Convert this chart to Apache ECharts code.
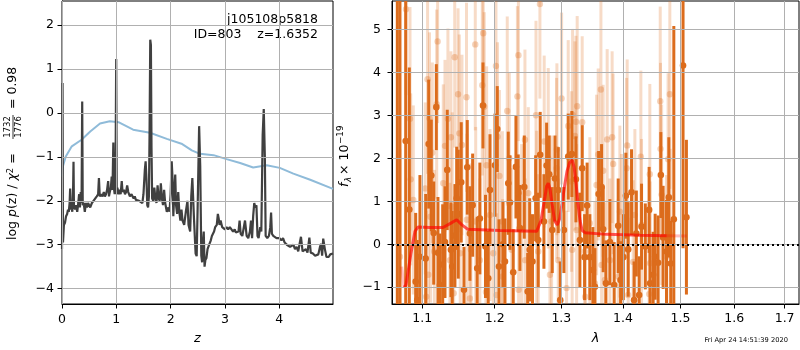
<!DOCTYPE html>
<html><head><meta charset="utf-8">
<script src="https://cdn.jsdelivr.net/npm/echarts@6/dist/echarts.min.js"></script>
<style>html,body{margin:0;padding:0;background:#fff}#c{width:800px;height:350px}</style>
</head><body><div id="c"></div><script>
// ---------- Left panel: log p(z) and chi2 curve ----------
const pzZ = [0.000,0.010,0.018,0.035,0.055,0.075,0.095,0.110,0.125,0.140,0.150,0.160,0.175,0.190,0.205,0.212,0.220,0.240,0.260,0.280,0.300,0.315,0.330,0.345,0.360,0.372,0.382,0.400,0.420,0.440,0.460,0.480,0.500,0.520,0.550,0.580,0.610,0.640,0.665,0.680,0.695,0.720,0.745,0.770,0.790,0.810,0.830,0.850,0.865,0.880,0.900,0.915,0.930,0.945,0.955,0.970,0.985,0.998,1.008,1.020,1.040,1.060,1.080,1.100,1.115,1.140,1.160,1.180,1.200,1.220,1.250,1.280,1.300,1.320,1.340,1.360,1.390,1.420,1.450,1.480,1.500,1.525,1.540,1.555,1.570,1.585,1.600,1.612,1.625,1.637,1.648,1.660,1.680,1.700,1.720,1.740,1.760,1.780,1.800,1.820,1.840,1.860,1.880,1.900,1.930,1.960,1.980,2.000,2.020,2.035,2.050,2.070,2.085,2.100,2.120,2.140,2.160,2.180,2.200,2.220,2.250,2.280,2.310,2.330,2.360,2.380,2.400,2.430,2.460,2.480,2.500,2.525,2.545,2.565,2.580,2.595,2.610,2.625,2.640,2.660,2.680,2.710,2.740,2.760,2.780,2.800,2.820,2.850,2.870,2.885,2.900,2.920,2.950,2.980,3.000,3.030,3.060,3.090,3.120,3.150,3.180,3.200,3.230,3.250,3.270,3.290,3.320,3.350,3.370,3.400,3.430,3.460,3.480,3.500,3.520,3.540,3.560,3.580,3.600,3.620,3.650,3.670,3.695,3.715,3.735,3.750,3.780,3.810,3.835,3.850,3.865,3.890,3.950,4.000,4.040,4.070,4.100,4.140,4.170,4.200,4.230,4.260,4.290,4.320,4.350,4.380,4.400,4.430,4.460,4.490,4.520,4.555,4.580,4.620,4.660,4.690,4.720,4.750,4.770,4.790,4.810,4.840,4.870,4.910,4.940,4.990];
const pzV = [-3.10,0.68,-2.95,-2.55,-2.50,-2.35,-2.30,-2.20,-2.25,-2.05,-1.72,-2.20,-2.15,-2.25,-1.70,-1.11,-2.10,-2.20,-2.10,-2.25,-2.05,-1.85,-2.15,-1.80,-2.05,0.26,-2.10,-2.05,-2.25,-2.05,-2.15,-2.05,-2.10,-2.15,-2.05,-2.00,-1.95,-1.90,-1.85,-1.48,-1.90,-1.85,-1.90,-1.80,-1.90,-1.85,-1.75,-1.55,-1.90,-1.80,-1.70,-1.45,-1.75,-0.67,-1.70,-1.85,-1.60,1.23,-1.85,-1.70,-1.85,-1.75,-1.85,-1.55,-1.80,-1.75,-1.85,-1.80,-1.65,-1.80,-1.90,-1.85,-1.90,-1.95,-1.90,-1.98,-1.95,-2.00,-2.00,-2.05,-1.85,-1.30,-1.10,-1.50,-2.10,-2.15,-1.90,-0.50,1.67,1.55,-0.80,-1.95,-2.00,-1.70,-1.95,-2.05,-1.65,-1.95,-2.00,-1.60,-1.95,-2.10,-1.75,-2.05,-2.25,-2.15,-2.25,-1.85,-1.10,-1.50,-2.35,-1.75,-1.40,-2.10,-2.30,-1.80,-2.25,-2.45,-2.20,-2.45,-2.55,-2.25,-2.00,-2.55,-2.70,-1.90,-1.48,-2.40,-3.20,-3.26,-2.00,-0.30,-1.20,-3.25,-3.40,-2.95,-2.70,-3.50,-3.35,-3.30,-3.10,-3.00,-2.90,-2.80,-2.75,-2.70,-2.60,-2.55,-2.30,-2.40,-2.55,-2.45,-2.60,-2.60,-2.65,-2.60,-2.65,-2.60,-2.65,-2.70,-2.65,-2.72,-2.75,-2.70,-2.45,-2.75,-2.80,-2.80,-2.45,-2.80,-2.85,-2.70,-2.45,-2.85,-2.35,-2.05,-2.15,-2.10,-2.80,-2.85,-2.60,-2.70,-0.50,0.09,-1.00,-2.80,-2.85,-2.80,-2.60,-2.27,-2.75,-2.80,-2.85,-2.85,-2.90,-2.85,-2.95,-3.00,-2.98,-3.05,-3.05,-3.00,-3.10,-3.05,-3.15,-2.95,-2.82,-3.15,-3.15,-3.10,-3.18,-2.84,-3.18,-3.20,-3.25,-3.25,-3.22,-3.05,-2.98,-3.25,-2.86,-3.10,-3.28,-3.28,-3.22,-3.20];
const chiZ = [0.00,0.02,0.07,0.18,0.36,0.52,0.70,0.88,1.04,1.31,1.62,1.93,2.20,2.39,2.54,2.79,3.03,3.28,3.52,3.77,4.01,4.26,4.57,4.99];
const chiV = [-1.45,-1.20,-0.99,-0.76,-0.61,-0.42,-0.24,-0.19,-0.21,-0.38,-0.45,-0.59,-0.70,-0.85,-0.93,-0.96,-1.05,-1.14,-1.24,-1.19,-1.25,-1.38,-1.52,-1.73];
const leftXTicks = [0,1,2,3,4];
const leftYTicks = [-4,-3,-2,-1,0,1,2];

// ---------- Right panel: spectrum ----------
const darkLam = [1.0675,1.0709,1.0783,1.0830,1.0913,1.0934,1.0969,1.1045,1.1085,1.1120,1.1152,1.1187,1.1209,1.1236,1.1273,1.1304,1.1335,1.1385,1.1403,1.1440,1.1464,1.1486,1.1527,1.1565,1.1611,1.1648,1.1686,1.1750,1.1788,1.1832,1.1868,1.1907,1.1932,1.2004,1.2037,1.2062,1.2120,1.2149,1.2197,1.2222,1.2270,1.2310,1.2344,1.2369,1.2434,1.2485,1.2515,1.2557,1.2605,1.2644,1.2674,1.2731,1.2772,1.2812,1.2859,1.2901,1.2952,1.2983,1.3040,1.3108,1.3166,1.3230,1.3293,1.3330,1.3368,1.3409,1.3453,1.3502,1.3535,1.3595,1.3644,1.3670,1.3715,1.3781,1.3852,1.3919,1.3959,1.4005,1.4048,1.4087,1.4144,1.4188,1.4226,1.4274,1.4315,1.4380,1.4446,1.4463,1.4516,1.4551,1.4603,1.4651,1.4691,1.4751,1.4792,1.4827,1.4881,1.5047,1.5108];
const darkF = [-3.0,7.0,2.40,0.81,-0.87,-1.30,-0.29,-0.33,2.33,1.60,0.26,3.19,-0.20,-0.95,-0.47,0.05,1.73,-0.13,-0.52,0.20,1.07,0.70,1.44,-1.06,1.79,0.25,0.91,-0.56,0.60,3.23,-0.05,-0.79,1.26,1.84,2.68,-0.52,0.00,-0.40,1.42,0.97,-0.65,1.80,1.19,0.38,1.33,-1.10,-0.13,-0.40,1.07,0.10,2.08,0.53,1.83,1.63,0.33,1.53,1.26,-1.30,0.33,2.04,2.10,1.51,0.10,1.77,-0.30,0.90,-0.30,-0.60,-0.99,1.17,1.33,0.35,-0.91,0.05,-0.95,0.43,-0.83,-0.30,1.13,-0.12,1.21,-1.30,0.25,-1.18,0.41,-0.05,0.80,-0.91,-0.71,-0.29,-0.43,1.61,0.16,-0.17,1.09,-0.45,0.58,4.16,0.63];
const darkE = [9,9,6,3.3,1.6,1.4,1.9,1.5,1.5,1.3,1.2,1.0,1.3,1.2,1.4,1.3,1.4,1.1,1.3,1.2,1.2,1.5,1.4,1.0,1.1,1.1,1.2,1.2,1.3,1.0,1.2,1.1,1.3,1.2,1.0,1.1,1.0,1.0,1.2,1.1,1.0,1.2,0.9,1.0,1.2,0.9,1.2,1.1,1.0,1.1,1.0,1.1,1.0,0.9,1.0,1.0,1.0,0.9,1.0,1.0,1.0,1.0,1.1,1.0,1.0,1.0,1.0,1.0,0.9,1.0,1.0,1.0,1.0,1.0,1.0,1.1,0.9,1.0,1.0,1.1,1.0,0.9,1.0,0.9,1.0,1.0,1.0,0.9,1.0,1.0,1.1,1.0,1.2,1.2,1.4,1.0,4.5,4.25,1.8];
const lightLam = [1.0709,1.0787,1.0839,1.0848,1.0882,1.1039,1.1052,1.1070,1.1080,1.1096,1.1109,1.1133,1.1160,1.1192,1.1205,1.1281,1.1304,1.1344,1.1371,1.1385,1.1403,1.1423,1.1437,1.1483,1.1500,1.1513,1.1537,1.1600,1.1605,1.1648,1.1662,1.1723,1.1729,1.1788,1.1822,1.1836,1.1850,1.1874,1.1884,1.1932,1.1979,1.2018,1.2028,1.2040,1.2068,1.2111,1.2115,1.2182,1.2212,1.2247,1.2332,1.2347,1.2350,1.2395,1.2444,1.2448,1.2494,1.2610,1.2620,1.2644,1.2670,1.2735,1.2797,1.2823,1.2849,1.2926,1.2931,1.2952,1.3004,1.3082,1.3108,1.3161,1.3170,1.3177,1.3214,1.3230,1.3241,1.3250,1.3330,1.3373,1.3378,1.3453,1.3535,1.3562,1.3589,1.3633,1.3644,1.3670,1.3698,1.3736,1.3781,1.3818,1.3835,1.3919,1.3947,1.3975,1.4060,1.4070,1.4087,1.4172,1.4201,1.4303,1.4315,1.4446,1.4458,1.4463,1.4640,1.4645,1.4665,1.4751,1.4779,1.4810,1.4815];
const lightF = [-0.29,5.47,2.92,1.51,1.03,1.30,-1.22,3.84,-0.71,2.93,0.64,2.13,-0.17,3.26,4.72,1.42,2.29,2.92,-0.37,2.49,0.87,-1.14,4.35,3.49,2.58,-0.21,2.31,3.42,0.57,-1.26,-0.12,4.65,0.53,-0.37,3.70,4.91,3.20,-1.11,1.84,0.68,-0.21,4.15,-1.18,2.50,1.59,0.53,-0.75,3.10,2.00,-0.13,3.44,4.40,-1.06,0.33,2.43,-0.37,1.19,3.00,0.64,-0.17,5.59,2.39,2.00,-0.71,0.53,1.77,2.21,-0.37,3.39,-1.02,2.75,1.46,-0.13,3.01,2.52,2.85,0.33,3.21,2.84,-0.17,-1.22,0.49,-0.91,1.38,2.09,3.60,-0.48,1.71,-0.83,2.44,-0.37,2.49,1.87,-0.75,0.76,0.10,1.77,2.30,-1.18,-0.41,0.68,2.04,0.45,-1.16,1.63,-0.44,3.33,2.22,1.15,-0.29,1.98,3.49,0.22];
const lightE = [2.5,2.0,2.6,2.0,2.2,2.0,2.0,2.2,1.8,2.0,2.0,2.1,1.9,2.2,1.9,2.3,2.0,2.1,1.8,2.0,2.2,1.8,2.1,2.0,2.3,2.0,2.1,2.2,2.0,1.8,2.0,2.0,2.2,1.9,2.1,2.0,2.2,1.8,2.3,2.0,2.0,2.1,1.9,2.2,2.0,2.1,1.8,2.2,2.0,1.9,2.1,2.0,1.8,2.0,2.1,1.9,2.0,2.2,2.0,1.8,2.2,2.0,2.1,1.8,2.0,2.1,2.0,1.9,2.0,1.8,2.0,2.1,1.9,2.0,2.2,2.0,2.0,2.1,2.0,1.9,1.8,2.0,1.9,2.1,2.0,2.2,1.9,2.0,1.8,2.1,1.9,2.0,2.1,1.8,2.0,2.0,2.1,2.0,1.8,1.9,2.0,2.0,2.0,1.8,2.1,1.9,2.2,2.0,2.1,1.9,2.0,2.2,2.0];
const modelLam = [1.0731,1.0761,1.0787,1.0852,1.0904,1.0943,1.1102,1.1277,1.1373,1.1464,1.1537,1.1617,1.2076,1.2620,1.2686,1.2747,1.2772,1.2798,1.2825,1.2855,1.2895,1.2937,1.2975,1.3011,1.3050,1.3089,1.3130,1.3172,1.3200,1.3230,1.3262,1.3295,1.3330,1.3374,1.3728,1.4288,1.4753,1.5113];
const modelF = [-0.52,-1.00,-0.95,-0.20,0.30,0.40,0.39,0.39,0.48,0.57,0.45,0.35,0.32,0.30,0.55,1.10,1.35,1.42,1.28,0.95,0.55,0.45,0.60,0.95,1.35,1.70,1.90,1.96,1.80,1.45,0.95,0.55,0.32,0.27,0.23,0.21,0.20,0.19];
const rightXTicks = [1.1,1.2,1.3,1.4,1.5,1.6,1.7];
const rightYTicks = [-1,0,1,2,3,4,5];

const FONT = 'DejaVu Sans';
const zip = (a, b) => a.map((v, i) => [v, b[i]]);
const zip3 = (a, b, c) => a.map((v, i) => [v, b[i], c[i]]);
const minus = v => (v < 0 ? '\u2212' + Math.abs(v) : String(v));

function errRender(color, dotColor, r) {
  return function (params, api) {
    const x = api.value(0), y = api.value(1), e = api.value(2);
    const t = api.coord([x, y + e]);
    const b = api.coord([x, y - e]);
    const c = api.coord([x, y]);
    return {
      type: 'group',
      children: [
        { type: 'line', shape: { x1: t[0], y1: t[1], x2: b[0], y2: b[1] }, style: { stroke: color, lineWidth: 3 } },
        { type: 'circle', shape: { cx: c[0], cy: c[1], r: r }, style: { fill: dotColor } }
      ]
    };
  };
}

function gridLines(xs, ys) {
  return {
    silent: true, symbol: 'none', label: { show: false }, animation: false,
    lineStyle: { color: '#b0b0b0', width: 1, type: 'solid' },
    emphasis: { disabled: true },
    data: xs.map(v => ({ xAxis: v })).concat(ys.map(v => ({ yAxis: v })))
  };
}

const axisCommon = {
  axisLine: { show: true, onZero: false, lineStyle: { color: '#000', width: 1 } },
  splitLine: { show: false }
};
const tick = vals => ({ show: true, length: 4.5, customValues: vals, lineStyle: { color: '#000', width: 1 } });

const chart = echarts.init(document.getElementById('c'), null, { renderer: 'canvas' });
chart.setOption({
  animation: false,
  backgroundColor: '#fff',
  grid: [
    { left: 62, top: 1, width: 271, height: 303, show: true, borderColor: '#000', borderWidth: 1, backgroundColor: 'transparent' },
    { left: 392, top: 1, width: 407, height: 303, show: true, borderColor: '#000', borderWidth: 1, backgroundColor: 'transparent' }
  ],
  xAxis: [
    Object.assign({}, axisCommon, {
      gridIndex: 0, type: 'value', min: 0, max: 4.99,
      axisTick: tick(leftXTicks),
      axisLabel: { customValues: leftXTicks, fontFamily: FONT, fontSize: 12.5, color: '#000', margin: 9, formatter: minus },
      name: 'z', nameLocation: 'middle', nameGap: 28,
      nameTextStyle: { fontFamily: FONT, fontSize: 13, fontStyle: 'italic', color: '#000' }
    }),
    Object.assign({}, axisCommon, {
      gridIndex: 1, type: 'log', logBase: 10, min: 1.0607, max: 1.7296,
      axisTick: tick(rightXTicks),
      axisLabel: { customValues: rightXTicks, fontFamily: FONT, fontSize: 12.5, color: '#000', margin: 8, formatter: v => Number(v).toFixed(1) },
      name: '\u03bb', nameLocation: 'middle', nameGap: 28,
      nameTextStyle: { fontFamily: FONT, fontSize: 13, fontStyle: 'italic', color: '#000' }
    })
  ],
  yAxis: [
    Object.assign({}, axisCommon, {
      gridIndex: 0, type: 'value', min: -4.35, max: 2.55,
      axisTick: tick(leftYTicks),
      axisLabel: { customValues: leftYTicks, fontFamily: FONT, fontSize: 12.5, color: '#000', margin: 8, formatter: minus }
    }),
    Object.assign({}, axisCommon, {
      gridIndex: 1, type: 'value', min: -1.39, max: 5.66,
      axisTick: tick(rightYTicks),
      axisLabel: { customValues: rightYTicks, fontFamily: FONT, fontSize: 12.5, color: '#000', margin: 11, formatter: minus }
    })
  ],
  graphic: [
    { type: 'text', x: 318, y: 20, style: { text: 'j105108p5818', font: '12.5px "DejaVu Sans"', fill: '#000', align: 'right', verticalAlign: 'middle' } },
    { type: 'text', x: 318, y: 34.5, style: { text: 'ID=803    z=1.6352', font: '12.5px "DejaVu Sans"', fill: '#000', align: 'right', verticalAlign: 'middle' } },
    { type: 'text', x: 788, y: 340, style: { text: 'Fri Apr 24 14:51:39 2020', font: '6.7px "DejaVu Sans"', fill: '#000', align: 'right', verticalAlign: 'middle' } },
    {
      type: 'group', x: 13, y: 153, rotation: Math.PI / 2,
      children: [
        { type: 'text', x: -87, y: 0, style: { text: '{n|log }{i|p}{n|(z) / }{i|\u03c7}{s|2}{n| =}', align: 'left', verticalAlign: 'middle',
          rich: { n: { font: '12.5px "DejaVu Sans"', fill: '#000' }, i: { font: 'italic 12.5px "DejaVu Sans"', fill: '#000' }, s: { font: '8.5px "DejaVu Sans"', fill: '#000', verticalAlign: 'top', padding: [0, 0, 5, 0] } } } },
        { type: 'text', x: 26, y: -5, style: { text: '1732', font: '8.5px "DejaVu Sans"', fill: '#000', align: 'center', verticalAlign: 'middle' } },
        { type: 'line', shape: { x1: 14, y1: 0, x2: 38, y2: 0 }, style: { stroke: '#000', lineWidth: 0.8 } },
        { type: 'text', x: 26, y: 5.5, style: { text: '1776', font: '8.5px "DejaVu Sans"', fill: '#000', align: 'center', verticalAlign: 'middle' } },
        { type: 'text', x: 44, y: 0, style: { text: '= 0.98', font: '12.5px "DejaVu Sans"', fill: '#000', align: 'left', verticalAlign: 'middle' } }
      ]
    },
    {
      type: 'group', x: 345, y: 153, rotation: Math.PI / 2,
      children: [
        { type: 'text', x: -34, y: 0, style: { text: 'f', font: 'italic 12.5px "DejaVu Sans"', fill: '#000', align: 'left', verticalAlign: 'middle' } },
        { type: 'text', x: -29, y: 3.5, style: { text: '\u03bb', font: 'italic 8.8px "DejaVu Sans"', fill: '#000', align: 'left', verticalAlign: 'middle' } },
        { type: 'text', x: -22, y: 0, style: { text: '\u00d7 10', font: '12.5px "DejaVu Sans"', fill: '#000', align: 'left', verticalAlign: 'middle' } },
        { type: 'text', x: 9, y: -4.5, style: { text: '\u221219', font: '8.8px "DejaVu Sans"', fill: '#000', align: 'left', verticalAlign: 'middle' } }
      ]
    }
  ],
  series: [
    { type: 'line', xAxisIndex: 0, yAxisIndex: 0, data: [], z: 1, markLine: gridLines(leftXTicks, leftYTicks) },
    { type: 'line', xAxisIndex: 1, yAxisIndex: 1, data: [], z: 1, markLine: gridLines(rightXTicks, rightYTicks) },
    { type: 'line', xAxisIndex: 0, yAxisIndex: 0, data: zip(chiZ, chiV), showSymbol: false, symbol: 'none',
      lineStyle: { color: '#8fbbd9', width: 2 }, z: 2 },
    { type: 'line', xAxisIndex: 0, yAxisIndex: 0, data: zip(pzZ, pzV), showSymbol: false, symbol: 'none',
      lineStyle: { color: '#404040', width: 2.2 }, z: 3 },
    { type: 'custom', xAxisIndex: 1, yAxisIndex: 1, clip: true, data: zip3(lightLam, lightF, lightE),
      renderItem: errRender('rgba(222,110,30,0.25)', 'rgba(222,110,30,0.3)', 3.2), z: 2 },
    { type: 'custom', xAxisIndex: 1, yAxisIndex: 1, clip: true, data: zip3(darkLam, darkF, darkE),
      renderItem: errRender('#dc6c1c', '#dc6c1c', 3.3), z: 3 },
    { type: 'line', xAxisIndex: 1, yAxisIndex: 1, data: zip(modelLam, modelF).slice(0, 2), showSymbol: false, symbol: 'none',
      lineStyle: { color: 'rgba(255,0,0,0.25)', width: 3 }, z: 4 },
    { type: 'line', xAxisIndex: 1, yAxisIndex: 1, data: zip(modelLam, modelF).slice(1, modelLam.length - 1), showSymbol: false, symbol: 'none',
      lineStyle: { color: 'rgba(255,0,0,0.65)', width: 3 }, z: 4 },
    { type: 'line', xAxisIndex: 1, yAxisIndex: 1, data: zip(modelLam, modelF).slice(modelLam.length - 2), showSymbol: false, symbol: 'none',
      lineStyle: { color: 'rgba(255,0,0,0.25)', width: 3 }, z: 4,
      markLine: { silent: true, symbol: 'none', label: { show: false }, data: [{ yAxis: 0 }],
        lineStyle: { color: '#000', type: [2, 3], width: 2 } } }
  ]
});
</script></body></html>
